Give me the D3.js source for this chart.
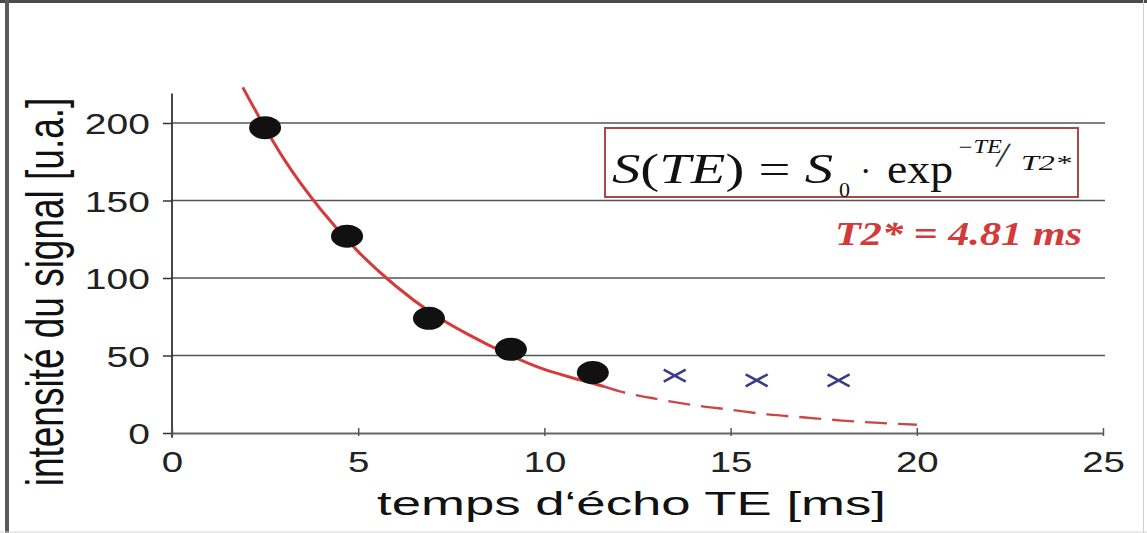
<!DOCTYPE html>
<html>
<head>
<meta charset="utf-8">
<script src="https://cdn.jsdelivr.net/npm/d3@7"></script>
<style>
  body { margin: 0; background: #fff; }
  svg { display: block; }
</style>
</head>
<body>
<svg id="chart"></svg>
<script>
// measured points (black dots), echo time in ms vs signal in a.u.
const echoTimes = [2.5, 4.7, 6.9, 9.1, 11.3];
const signal = [197, 127, 74, 54, 39];
// points left out of the fit (blue crosses)
const excludedTimes = [13.5, 15.7, 17.9];
const excludedSignal = [37, 34, 34];
// fitted curve: solid part then dashed extrapolation
const fitSolidTE = [1.9, 2.5, 3, 4, 5, 6, 7, 8, 9, 10, 11, 11.6];
const fitSolidS = [223, 197, 177, 144, 117, 95, 77, 63, 51, 41, 34, 30];
const fitDashTE = [11.6, 12, 13, 14, 15, 16, 17, 18, 19, 20];
const fitDashS = [30, 27, 22, 18, 15, 12, 10, 8, 6.5, 5.3];

const xTicks = [0, 5, 10, 15, 20, 25];
const yTicks = [0, 50, 100, 150, 200];
const gridValues = [50, 100, 150, 200];

const width = 1147, height = 533;
const svg = d3.select('#chart').attr('width', width).attr('height', height);

const x = d3.scaleLinear().domain([0, 25]).range([172, 1103]);
const y = d3.scaleLinear().domain([0, 200]).range([433, 123]);

// frame around the picture
svg.append('line').attr('x1', 0).attr('x2', width).attr('y1', 1.5).attr('y2', 1.5)
  .attr('stroke', '#4a4a4a').attr('stroke-width', 3);
svg.append('line').attr('x1', 7).attr('x2', 7).attr('y1', 0).attr('y2', height)
  .attr('stroke', '#5a5a5a').attr('stroke-width', 4);
svg.append('line').attr('x1', 1143.5).attr('x2', 1143.5).attr('y1', 0).attr('y2', height)
  .attr('stroke', '#cfcfcf').attr('stroke-width', 1);
svg.append('line').attr('x1', 0).attr('x2', width).attr('y1', 532).attr('y2', 532)
  .attr('stroke', '#d6d6d6').attr('stroke-width', 1);

// horizontal grid
svg.append('g')
  .selectAll('line')
  .data(gridValues)
  .enter()
  .append('line')
  .attr('x1', x(0))
  .attr('x2', x(25) + 2)
  .attr('y1', d => y(d))
  .attr('y2', d => y(d))
  .attr('stroke', '#555')
  .attr('stroke-width', 1.6);

// y axis
const yAxis = svg.append('g')
  .attr('transform', `translate(${x(0)}, 0)`)
  .call(d3.axisLeft(y).tickValues(yTicks).tickSize(9).tickSizeOuter(0));
yAxis.select('.domain').remove();
yAxis.selectAll('.tick line').attr('stroke', '#333').attr('stroke-width', 1.5);
yAxis.selectAll('.tick text')
  .attr('x', -17)
  .attr('dy', '0.36em')
  .attr('transform', 'scale(1.3,1)')
  .style('font-family', '"Liberation Sans", Arial, sans-serif')
  .style('font-size', '30px')
  .style('fill', '#222');
svg.append('line')
  .attr('x1', x(0)).attr('x2', x(0))
  .attr('y1', y(-3)).attr('y2', y(219))
  .attr('stroke', '#333').attr('stroke-width', 1.8);

// x axis
const xAxis = svg.append('g')
  .attr('transform', `translate(0, ${y(0)})`)
  .call(d3.axisBottom(x).tickValues(xTicks).tickSize(3).tickSizeOuter(0));
xAxis.select('.domain').attr('stroke', '#666').attr('stroke-width', 2);
xAxis.selectAll('.tick line').attr('y1', -5).attr('y2', 3).attr('stroke', '#555').attr('stroke-width', 1.5);
xAxis.selectAll('.tick text')
  .attr('y', 18)
  .attr('dy', '0.71em')
  .attr('transform', 'scale(1.28,1)')
  .style('font-family', '"Liberation Sans", Arial, sans-serif')
  .style('font-size', '30px')
  .style('fill', '#222');

// axis titles
svg.append('text')
  .attr('transform', 'translate(63, 292) scale(1.4,1) rotate(-90)')
  .attr('text-anchor', 'middle')
  .style('font-family', '"Liberation Sans", Arial, sans-serif')
  .style('font-size', '37px')
  .style('fill', '#111')
  .text('intensité du signal [u.a.]');

svg.append('text')
  .attr('x', 377)
  .attr('y', 515)
  .attr('textLength', 509)
  .attr('lengthAdjust', 'spacingAndGlyphs')
  .style('font-family', '"Liberation Sans", Arial, sans-serif')
  .style('font-size', '34px')
  .style('fill', '#111')
  .text('temps d‘écho TE [ms]');

// fitted curve
const line = d3.line()
  .x(d => x(d[0]))
  .y(d => y(d[1]))
  .curve(d3.curveMonotoneX);

svg.append('path')
  .datum(fitSolidTE.map((t, i) => [t, fitSolidS[i]]))
  .attr('d', line)
  .style('fill', 'none')
  .style('stroke', '#d43c3c')
  .style('stroke-width', 3);

svg.append('path')
  .datum(fitDashTE.map((t, i) => [t, fitDashS[i]]))
  .attr('d', line)
  .style('fill', 'none')
  .style('stroke', '#cc4646')
  .style('stroke-width', 2.4)
  .style('stroke-dasharray', '22,11');

// measured points
svg.append('g')
  .selectAll('ellipse')
  .data(echoTimes.map((t, i) => [t, signal[i]]))
  .enter()
  .append('ellipse')
  .attr('cx', d => x(d[0]))
  .attr('cy', d => y(d[1]))
  .attr('rx', 16)
  .attr('ry', 11.5)
  .style('fill', '#111');

// excluded points
svg.append('g')
  .selectAll('path')
  .data(excludedTimes.map((t, i) => [t, excludedSignal[i]]))
  .enter()
  .append('path')
  .attr('transform', d => `translate(${x(d[0])}, ${y(d[1])})`)
  .attr('d', 'M-11,-6L11,6M-11,6L11,-6')
  .style('fill', 'none')
  .style('stroke', '#3b3b88')
  .style('stroke-width', 2.6);

// formula box
const serif = '"Liberation Serif", "Times New Roman", serif';
const box = svg.append('g');
box.append('rect')
  .attr('x', 605).attr('y', 128).attr('width', 473).attr('height', 69)
  .style('fill', '#fff').style('stroke', '#a84a4a').style('stroke-width', 2);

const main = box.append('text')
  .attr('x', 612).attr('y', 183)
  .attr('textLength', 221)
  .attr('lengthAdjust', 'spacingAndGlyphs')
  .style('font-family', serif).style('font-size', '42px').style('fill', '#111');
main.append('tspan').style('font-style', 'italic').text('S');
main.append('tspan').text('(');
main.append('tspan').style('font-style', 'italic').text('TE');
main.append('tspan').text(') = ');
main.append('tspan').style('font-style', 'italic').text('S');

box.append('text').attr('x', 839).attr('y', 197)
  .style('font-family', serif).style('font-size', '22px').style('fill', '#111').text('0');
box.append('text').attr('x', 860).attr('y', 182)
  .style('font-family', serif).style('font-size', '34px').style('fill', '#111').text('·');
box.append('text').attr('x', 887).attr('y', 183)
  .attr('textLength', 66).attr('lengthAdjust', 'spacingAndGlyphs')
  .style('font-family', serif).style('font-size', '42px').style('fill', '#111').text('exp');
box.append('text').attr('x', 957).attr('y', 153)
  .attr('textLength', 45).attr('lengthAdjust', 'spacingAndGlyphs')
  .style('font-family', serif).style('font-style', 'italic').style('font-size', '18px').style('fill', '#111').text('−TE');
box.append('text').attr('x', 998).attr('y', 169)
  .attr('transform', 'rotate(12, 1010, 155)')
  .style('font-family', serif).style('font-size', '38px').style('fill', '#333').text('/');
box.append('text').attr('x', 1021).attr('y', 170)
  .attr('textLength', 50).attr('lengthAdjust', 'spacingAndGlyphs')
  .style('font-family', serif).style('font-style', 'italic').style('font-size', '21px').style('fill', '#111').text('T2*');

// fitted T2* value
svg.append('text')
  .attr('x', 835).attr('y', 245)
  .attr('textLength', 247)
  .attr('lengthAdjust', 'spacingAndGlyphs')
  .style('font-family', serif)
  .style('font-style', 'italic')
  .style('font-weight', 'bold')
  .style('font-size', '33px')
  .style('fill', '#d23b3b')
  .text('T2* = 4.81 ms');
</script>
</body>
</html>
